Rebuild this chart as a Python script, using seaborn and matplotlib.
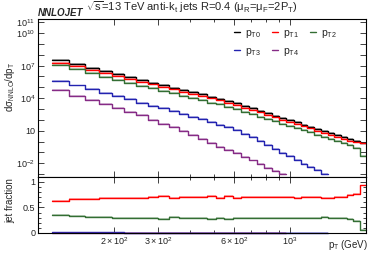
import matplotlib
matplotlib.use('Agg')
import matplotlib.pyplot as plt
import matplotlib.ticker as mticker
from matplotlib.lines import Line2D
import seaborn as sns
import numpy as np
import pandas as pd

# pT bin edges (GeV)
pt_edges = [114, 133, 153, 174, 196, 220, 245, 272, 300, 330, 362, 395, 430, 468,
            507, 548, 592, 638, 686, 737, 790, 846, 905, 967, 1032, 1101, 1172,
            1248, 1327, 1410, 1497, 1588, 1684, 1784, 1890, 2000]

# log10(dsigma/dpT)
pt0_log = [7.48, 7.15, 6.80, 6.48, 6.21, 5.94, 5.69, 5.44, 5.20, 4.98, 4.76, 4.55,
           4.35, 4.14, 3.95, 3.70, 3.52, 3.29, 3.06, 2.83, 2.61, 2.40, 2.18, 1.97,
           1.76, 1.56, 1.36, 1.16, 0.97, 0.78, 0.59, 0.40, 0.21, 0.03, -0.15]
pt3_log = [5.58, 5.17, 4.86, 4.52, 4.21, 3.91, 3.59, 3.31, 3.07, 2.82, 2.55, 2.30,
           2.06, 1.78, 1.53, 1.30, 1.02, 0.72, 0.38, 0.03, -0.32, -0.68, -1.03,
           -1.38, -1.72, -2.05, -2.37, -2.67, -2.96]
pt4_log = [4.72, 4.24, 3.84, 3.47, 3.07, 2.76, 2.43, 1.99, 1.62, 1.31, 1.00, 0.60,
           0.23, -0.11, -0.48, -0.79, -1.09, -1.42, -1.75, -2.08, -2.40, -2.72, -3.04]

# jet fractions
frac_pt1 = [0.63, 0.66, 0.67, 0.68, 0.68, 0.69, 0.69, 0.70, 0.72, 0.68, 0.70, 0.70,
            0.71, 0.72, 0.69, 0.72, 0.69, 0.70, 0.70, 0.71, 0.70, 0.70, 0.71, 0.70,
            0.69, 0.70, 0.71, 0.70, 0.69, 0.69, 0.70, 0.71, 0.74, 0.76, 0.93]
frac_pt2 = [0.35, 0.33, 0.32, 0.31, 0.30, 0.30, 0.30, 0.29, 0.27, 0.31, 0.30, 0.30,
            0.29, 0.27, 0.30, 0.28, 0.30, 0.30, 0.29, 0.30, 0.30, 0.29, 0.29, 0.30,
            0.30, 0.29, 0.30, 0.30, 0.31, 0.30, 0.30, 0.29, 0.28, 0.23, 0.065]

labels = ['pT0', 'pT1', 'pT2', 'pT3', 'pT4']
colors = ['#000000', '#ff0000', '#336e33', '#2323b0', '#862b86']

sns.set_theme(style='ticks')
plt.rcParams['font.family'] = ['Liberation Sans', 'DejaVu Sans']
plt.rcParams['mathtext.fontset'] = 'custom'
plt.rcParams['mathtext.rm'] = 'Liberation Sans'
plt.rcParams['mathtext.it'] = 'Liberation Sans:italic'
plt.rcParams['mathtext.bf'] = 'Liberation Sans:bold'

edges = np.array(pt_edges, dtype=float)
pt0 = 10.0 ** np.array(pt0_log)
xsec = {
    'pT0': pt0,
    'pT1': pt0 * np.array(frac_pt1),
    'pT2': pt0 * np.array(frac_pt2),
    'pT3': 10.0 ** np.array(pt3_log),
    'pT4': 10.0 ** np.array(pt4_log),
}


def step_frame(vals):
    n = len(vals)
    return pd.DataFrame({'pt': edges[:n + 1], 'val': np.append(vals, vals[-1])})


fig = plt.figure(figsize=(3.74, 2.54), dpi=100)
ax = fig.add_axes([0.1016, 0.302, 0.877, 0.623])
axr = fig.add_axes([0.1016, 0.0827, 0.877, 0.2193], sharex=ax)

for name, c in zip(labels, colors):
    df = step_frame(xsec[name])
    ax.fill_between(df['pt'], df['val'] * 10 ** -0.07, df['val'] * 10 ** 0.09,
                    step='post', color=c, alpha=0.3, lw=0)
    sns.lineplot(data=df, x='pt', y='val', ax=ax, color=c, lw=1.0,
                 drawstyle='steps-post', estimator=None, sort=False)

    frac = xsec[name] / pt0[:len(xsec[name])]
    dfr = step_frame(frac)
    if name != 'pT0':
        axr.fill_between(dfr['pt'], dfr['val'] - 0.015, dfr['val'] + 0.015,
                         step='post', color=c, alpha=0.3, lw=0)
        sns.lineplot(data=dfr, x='pt', y='val', ax=axr, color=c, lw=1.0,
                     drawstyle='steps-post', estimator=None, sort=False, clip_on=False)

ax.set_xscale('log')
ax.set_yscale('log')
ax.set_xlim(100, 2000)
ax.set_ylim(5e-4, 2e11)
axr.set_ylim(0, 1.09)

for a in (ax, axr):
    a.set_xlabel('')
    a.set_ylabel('')
    a.tick_params(which='both', direction='in', top=True, right=True,
                  colors='#222222', labelsize=6.5, width=0.6, pad=2)
    a.tick_params(which='major', length=4)
    a.tick_params(which='minor', length=2.2)
    for s in a.spines.values():
        s.set_linewidth(0.8)
        s.set_color('black')

xmaj = [200, 300, 600, 1000]
ax.xaxis.set_major_locator(mticker.FixedLocator(xmaj))
ax.xaxis.set_minor_locator(mticker.FixedLocator([400, 500, 700, 800, 900]))
axr.xaxis.set_major_formatter(mticker.FixedFormatter(
    [r'$2\times10^{2}$', r'$3\times10^{2}$', r'$6\times10^{2}$', r'$10^{3}$']))
axr.xaxis.set_minor_formatter(mticker.NullFormatter())
plt.setp(ax.get_xticklabels(), visible=False)

ydec = [10.0 ** k for k in range(-3, 12)]
ylab = {11: r'$10^{11}$', 10: r'$10^{10}$', 7: r'$10^{7}$', 4: r'$10^{4}$',
        1: '10', -2: r'$10^{-2}$'}
ax.yaxis.set_major_locator(mticker.FixedLocator(ydec))
ax.yaxis.set_major_formatter(mticker.FixedFormatter(
    [ylab.get(k, '') for k in range(-3, 12)]))
ax.yaxis.set_minor_locator(mticker.NullLocator())

axr.yaxis.set_major_locator(mticker.FixedLocator([0, 0.5, 1]))
axr.yaxis.set_major_formatter(mticker.FixedFormatter(['0', '0.5', '1']))
axr.yaxis.set_minor_locator(mticker.MultipleLocator(0.1))

handles = [Line2D([], [], color=c, lw=1.0) for c in colors]
leg_txt = [r'$\mathrm{p}_{\mathrm{T%d}}$' % i for i in range(5)]
order = [0, 3, 1, 4, 2]
ax.legend([handles[i] for i in order], [leg_txt[i] for i in order], ncol=3,
          loc='upper left', bbox_to_anchor=(0.569, 1.005), frameon=False,
          fontsize=7.5, handlelength=0.6, handletextpad=0.5,
          columnspacing=1.0, labelspacing=0.6)

fig.text(0.513, 0.972,
         r'$\sqrt{\mathrm{s}}$=13 TeV anti-k$_{\mathrm{t}}$ jets R=0.4 '
         r'($\mathrm{\mu}_{\mathrm{R}}$=$\mathrm{\mu}_{\mathrm{F}}$=2P$_{\mathrm{T}}$)',
         ha='center', va='center', fontsize=8)
fig.text(0.1016, 0.948, 'NNLOJET', ha='left', va='center', fontsize=7,
         fontweight='bold', fontstyle='italic')
fig.text(0.027, 0.657, r'd$\mathrm{\sigma}_{\mathrm{NNLO}}$/dp$_{\mathrm{T}}$',
         rotation=90, ha='center', va='center', fontsize=7)
fig.text(0.027, 0.209, 'jet fraction', rotation=90, ha='center', va='center',
         fontsize=7)
fig.text(0.985, 0.035, r'p$_{\mathrm{T}}$ (GeV)', ha='right', va='center',
         fontsize=7)

fig.savefig('out.png', dpi=100)
plt.close(fig)
